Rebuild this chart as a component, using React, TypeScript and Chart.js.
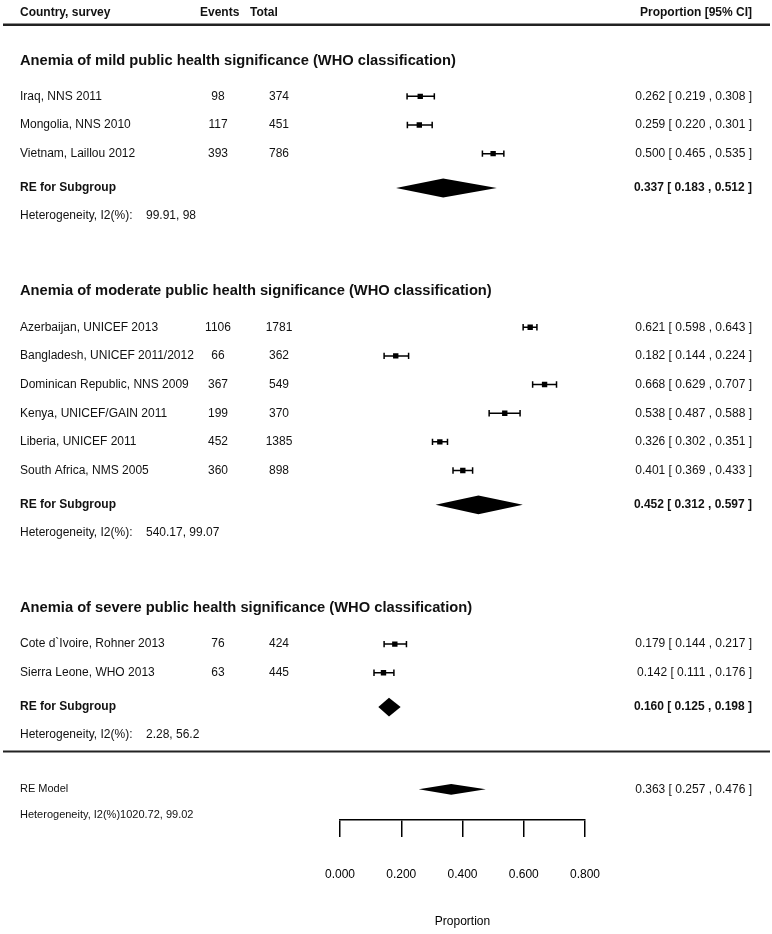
import React, { useEffect, useRef } from 'react';
import { Chart, registerables } from 'chart.js';

Chart.register(...registerables);

// ---------------- DATA ----------------
const groupTitles = [
  'Anemia of mild public health significance (WHO classification)',
  'Anemia of moderate public health significance (WHO classification)',
  'Anemia of severe public health significance (WHO classification)',
];

const studyLabels = [
  'Iraq, NNS 2011',
  'Mongolia, NNS 2010',
  'Vietnam, Laillou 2012',
  'Azerbaijan, UNICEF 2013',
  'Bangladesh, UNICEF 2011/2012',
  'Dominican Republic, NNS 2009',
  'Kenya, UNICEF/GAIN 2011',
  'Liberia, UNICEF 2011',
  'South Africa, NMS 2005',
  'Cote d`Ivoire, Rohner 2013',
  'Sierra Leone, WHO 2013',
];
const studyGroup = [0, 0, 0, 1, 1, 1, 1, 1, 1, 2, 2];
const studyEvents = [98, 117, 393, 1106, 66, 367, 199, 452, 360, 76, 63];
const studyTotals = [374, 451, 786, 1781, 362, 549, 370, 1385, 898, 424, 445];
const studyEst = [0.262, 0.259, 0.5, 0.621, 0.182, 0.668, 0.538, 0.326, 0.401, 0.179, 0.142];
const studyLo = [0.219, 0.22, 0.465, 0.598, 0.144, 0.629, 0.487, 0.302, 0.369, 0.144, 0.111];
const studyHi = [0.308, 0.301, 0.535, 0.643, 0.224, 0.707, 0.588, 0.351, 0.433, 0.217, 0.176];

const subgroupEst = [0.337, 0.452, 0.16];
const subgroupLo = [0.183, 0.312, 0.125];
const subgroupHi = [0.512, 0.597, 0.198];
const subgroupHet = ['99.91, 98', '540.17, 99.07', '2.28, 56.2'];

const overallEst = 0.363;
const overallLo = 0.257;
const overallHi = 0.476;
const overallHet = '1020.72, 99.02';

const xTicks = [0, 0.2, 0.4, 0.6, 0.8];
const xMin = 0;
const xMax = 0.8;

// ---------------- LAYOUT (row units) ----------------
const L = {
  header: 0.31,
  topLine: 0.73,
  firstHeading: 1.98,
  headToStudy: 1.25,
  studyStep: 1,
  studyToRE: 1.2,
  reToHet: 0.97,
  hetToHeading: 2.64,
  hetToLine: 0.58,
  hetToModel: 1.9,
  hetToModelHet: 2.78,
  hetToAxis: 2.97,
  diamondHalf: 0.33,
  modelDiamondHalf: 0.19,
};

function buildLayout() {
  const heading: number[] = [];
  const study: number[] = [];
  const re: number[] = [];
  const het: number[] = [];
  let y = L.firstHeading;
  for (let g = 0; g < groupTitles.length; g++) {
    if (g > 0) y += L.hetToHeading;
    heading.push(y);
    y += L.headToStudy;
    let first = true;
    studyGroup.forEach((sg, i) => {
      if (sg === g) {
        if (!first) y += L.studyStep;
        study[i] = y;
        first = false;
      }
    });
    y += L.studyToRE;
    re.push(y);
    y += L.reToHet;
    het.push(y);
  }
  const lastHet = y;
  return {
    heading,
    study,
    re,
    het,
    line: lastHet + L.hetToLine,
    model: lastHet + L.hetToModel,
    modelHet: lastHet + L.hetToModelHet,
    yMax: lastHet + L.hetToAxis,
  };
}

const FONT = '"Liberation Sans", Arial, Helvetica, sans-serif';
const TXT = '#111';
const fmt = (v: number) => v.toFixed(3);
const ciText = (e: number, lo: number, hi: number) => `${fmt(e)} [ ${fmt(lo)} , ${fmt(hi)} ]`;

const COL = { label: 20, events: 218, total: 279, totalHead: 250, eventsHead: 200, het: 146, right: 752, lineL: 3, lineR: 770 };

export default function App() {
  const ref = useRef<HTMLCanvasElement | null>(null);

  useEffect(() => {
    const canvas = ref.current;
    if (!canvas) return;
    const lay = buildLayout();

    const forestPlugin = {
      id: 'forest',
      beforeDatasetsDraw(chart: any) {
        const ctx = chart.ctx as CanvasRenderingContext2D;
        const xs = chart.scales.x;
        const ys = chart.scales.y;
        ctx.save();
        ctx.strokeStyle = '#000';
        ctx.fillStyle = '#000';
        ctx.lineWidth = 1.5;
        // whiskers
        studyEst.forEach((_, i) => {
          const y = ys.getPixelForValue(lay.study[i]);
          const x1 = xs.getPixelForValue(studyLo[i]);
          const x2 = xs.getPixelForValue(studyHi[i]);
          ctx.beginPath();
          ctx.moveTo(x1, y);
          ctx.lineTo(x2, y);
          ctx.moveTo(x1, y - 3.2);
          ctx.lineTo(x1, y + 3.2);
          ctx.moveTo(x2, y - 3.2);
          ctx.lineTo(x2, y + 3.2);
          ctx.stroke();
        });
        const diamond = (e: number, lo: number, hi: number, row: number, half: number) => {
          const xc = xs.getPixelForValue(e);
          const xl = xs.getPixelForValue(lo);
          const xr = xs.getPixelForValue(hi);
          const yc = ys.getPixelForValue(row);
          const yt = ys.getPixelForValue(row - half);
          const yb = ys.getPixelForValue(row + half);
          ctx.beginPath();
          ctx.moveTo(xl, yc);
          ctx.lineTo(xc, yt);
          ctx.lineTo(xr, yc);
          ctx.lineTo(xc, yb);
          ctx.closePath();
          ctx.fill();
        };
        subgroupEst.forEach((e, g) => diamond(e, subgroupLo[g], subgroupHi[g], lay.re[g], L.diamondHalf));
        diamond(overallEst, overallLo, overallHi, lay.model, L.modelDiamondHalf);
        ctx.restore();
      },
      afterDraw(chart: any) {
        const ctx = chart.ctx as CanvasRenderingContext2D;
        const ys = chart.scales.y;
        const py = (r: number) => ys.getPixelForValue(r);
        ctx.save();
        ctx.textBaseline = 'middle';
        ctx.fillStyle = TXT;
        const text = (s: string, x: number, y: number, align: CanvasTextAlign, font: string) => {
          ctx.font = font;
          ctx.textAlign = align;
          ctx.fillText(s, x, y);
        };
        const bold12 = `bold 12px ${FONT}`;
        const reg12 = `12px ${FONT}`;
        const reg11 = `11px ${FONT}`;
        const head = `bold 14.7px ${FONT}`;

        // header
        const hy = py(L.header);
        text('Country, survey', COL.label, hy, 'left', bold12);
        text('Events', COL.eventsHead, hy, 'left', bold12);
        text('Total', COL.totalHead, hy, 'left', bold12);
        text('Proportion [95% CI]', COL.right, hy, 'right', bold12);

        ctx.strokeStyle = '#222';
        ctx.lineWidth = 2.5;
        ctx.beginPath();
        ctx.moveTo(COL.lineL, py(L.topLine));
        ctx.lineTo(COL.lineR, py(L.topLine));
        ctx.stroke();

        groupTitles.forEach((t, g) => {
          text(t, COL.label, py(lay.heading[g]), 'left', head);
          text('RE for Subgroup', COL.label, py(lay.re[g]), 'left', bold12);
          text(ciText(subgroupEst[g], subgroupLo[g], subgroupHi[g]), COL.right, py(lay.re[g]), 'right', bold12);
          text('Heterogeneity, I2(%):', COL.label, py(lay.het[g]), 'left', reg12);
          text(subgroupHet[g], COL.het, py(lay.het[g]), 'left', reg12);
        });

        studyLabels.forEach((s, i) => {
          const y = py(lay.study[i]);
          text(s, COL.label, y, 'left', reg12);
          text(String(studyEvents[i]), COL.events, y, 'center', reg12);
          text(String(studyTotals[i]), COL.total, y, 'center', reg12);
          text(ciText(studyEst[i], studyLo[i], studyHi[i]), COL.right, y, 'right', reg12);
        });

        ctx.strokeStyle = '#222';
        ctx.lineWidth = 2;
        ctx.beginPath();
        ctx.moveTo(COL.lineL, py(lay.line));
        ctx.lineTo(COL.lineR, py(lay.line));
        ctx.stroke();

        text('RE Model', COL.label, py(lay.model), 'left', reg11);
        text(ciText(overallEst, overallLo, overallHi), COL.right, py(lay.model), 'right', reg12);
        text('Heterogeneity, I2(%)' + overallHet, COL.label, py(lay.modelHet), 'left', reg11);
        ctx.restore();
      },
    };

    const chart = new Chart(canvas, {
      type: 'scatter',
      data: {
        datasets: [
          {
            data: studyEst.map((e, i) => ({ x: e, y: lay.study[i] })),
            pointStyle: 'rect',
            pointRadius: 3.8,
            pointHoverRadius: 3.8,
            pointBackgroundColor: '#000',
            pointBorderWidth: 0,
            showLine: false,
          },
        ],
      },
      options: {
        animation: false,
        responsive: false,
        devicePixelRatio: 1,
        events: [],
        layout: { padding: { left: 340, right: 187, top: 0, bottom: 0 } },
        plugins: { legend: { display: false }, tooltip: { enabled: false } },
        scales: {
          x: {
            type: 'linear',
            position: 'bottom',
            min: xMin,
            max: xMax,
            afterBuildTicks: (s: any) => {
              s.ticks = xTicks.map((v) => ({ value: v }));
            },
            ticks: {
              color: '#000',
              font: { family: FONT, size: 12 },
              padding: 30,
              maxRotation: 0,
              autoSkip: false,
              callback: (v: any) => Number(v).toFixed(3),
            },
            grid: {
              display: true,
              drawOnChartArea: false,
              drawTicks: true,
              tickLength: 17,
              color: '#000',
              tickColor: '#000',
              lineWidth: 1.5,
            },
            border: { display: true, color: '#000', width: 1.5 },
            title: {
              display: true,
              text: 'Proportion',
              color: '#000',
              font: { family: FONT, size: 12 },
              padding: { top: 3, bottom: 5.2 },
            },
          },
          y: {
            type: 'linear',
            display: false,
            reverse: true,
            min: 0,
            max: lay.yMax,
          },
        },
      },
      plugins: [forestPlugin],
    } as any);

    return () => chart.destroy();
  }, []);

  return (
    <div style={{ position: 'absolute', left: 0, top: 0, width: 772, height: 934, background: '#fff' }}>
      <canvas ref={ref} width={772} height={934} style={{ display: 'block', width: 772, height: 934 }} />
    </div>
  );
}
